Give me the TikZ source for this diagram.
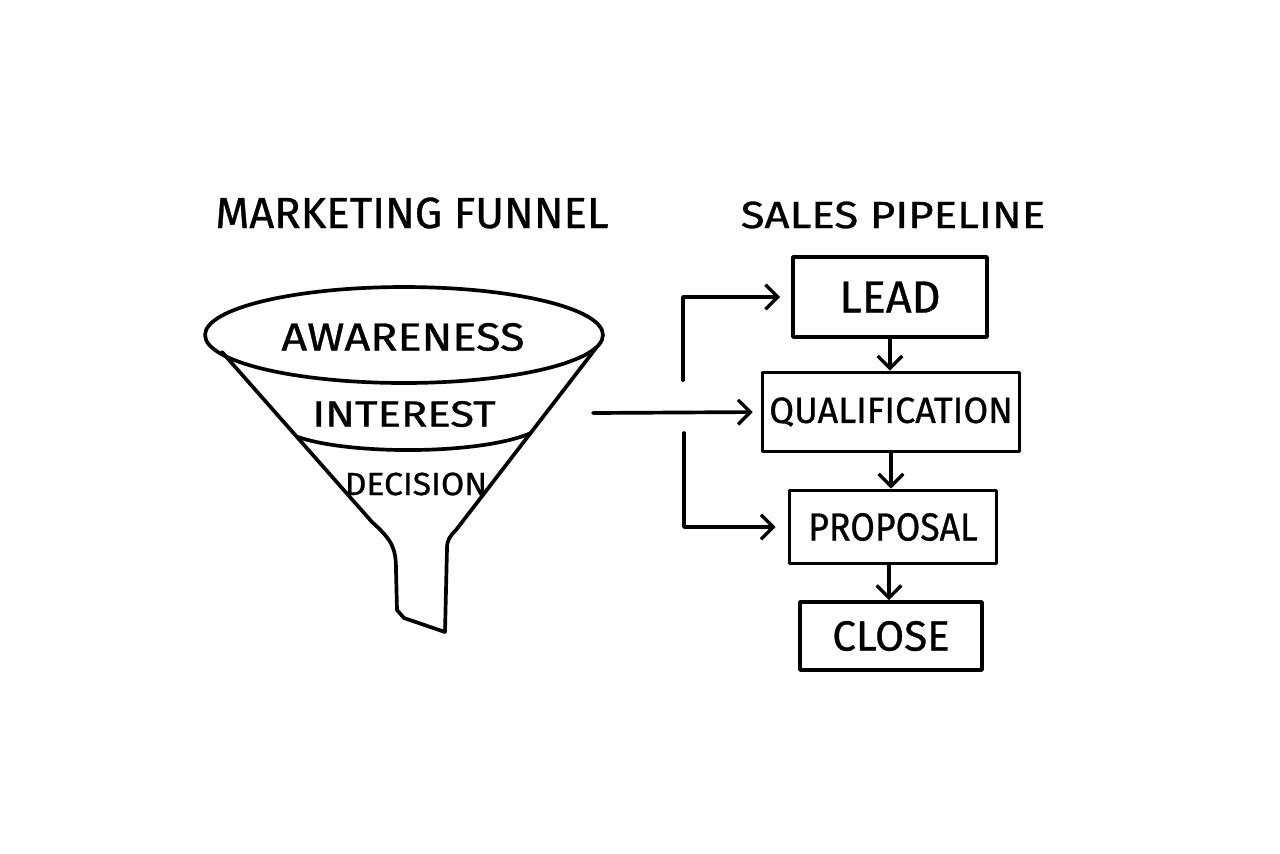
\documentclass[tikz,border=0pt]{standalone}
\usepackage{fontspec}
\setmainfont{Fira Sans}[FakeBold=0.8]
\usetikzlibrary{arrows.meta}
\newcommand{\fs}[1]{\fontsize{#1}{#1}\selectfont}
\newcommand{\sx}[2]{\scalebox{#1}[1]{#2}}
\tikzset{
  ink/.style={line width=2.1pt, line cap=round, line join=round},
  lbl/.style={inner sep=0pt, anchor=center},
  stage/.style={ink, draw, inner sep=0pt, anchor=center},
  flow/.style={ink, -{Straight Barb[length=7pt,width=14pt,line width=1.9pt]}},
}
\begin{document}
\begin{tikzpicture}[x=0.02cm, y=-0.02cm]
\useasboundingbox (0,0) rectangle (1280,853);
% titles
\node[lbl] (t1) at (412,213) {\fs{24.8pt}MARKETING FUNNEL};
\node[lbl] (t2) at (893,215) {\fs{21.5pt}\sx{1.16}{SALES PIPELINE}};
% funnel
\draw[ink] (404,335) ellipse [x radius=3.98cm, y radius=0.96cm];
\draw[ink] (222,352) -- (372,522) .. controls (392,540) and (396,548) .. (396,570)
  -- (397,610) -- (404,618) -- (445,632) -- (447,548)
  .. controls (447,540) and (450,536) .. (456,530) -- (596,348);
\draw[ink] (298,437) .. controls (350,455) and (480,455) .. (531,433);
\node[lbl] (aw) at (403,337) {\fs{22.3pt}\sx{1.15}{AWARENESS}};
\node[lbl] (in) at (404,414) {\fs{20.7pt}\sx{1.2}{INTEREST}};
\node[lbl] (de) at (416,484) {\fs{18.2pt}\sx{1.05}{DECISION}};
\coordinate (fout) at (593,413);
% pipeline
\node[stage, minimum width=3.88cm, minimum height=1.6cm] (lead) at (890,297) {\fs{25.6pt}LEAD};
\node[stage, minimum width=5.14cm, minimum height=1.58cm] (qual) at (891,412) {\fs{20.7pt}\sx{0.99}{QUALIFICATION}};
\node[stage, minimum width=4.14cm, minimum height=1.46cm] (prop) at (893,527) {\fs{22.3pt}\sx{0.91}{PROPOSAL}};
\node[stage, minimum width=3.64cm, minimum height=1.36cm] (close) at (891,636) {\fs{24pt}CLOSE};
% arrows
\draw[flow] (lead.south) -- (lead.south |- qual.north);
\draw[flow] (qual.south) -- (qual.south |- prop.north);
\draw[flow] ([xshift=-0.08cm]prop.south) -- ([xshift=-0.08cm]prop.south |- close.north);
\draw[flow, shorten >=0.16cm] (fout) -- (qual.west);
\coordinate (b1) at (683,380);
\coordinate (b2) at (684,433);
\draw[flow, shorten >=0.22cm] (b1) |- (lead.west);
\draw[flow, shorten >=0.24cm] (b2) |- (prop.west);
\end{tikzpicture}
\end{document}
